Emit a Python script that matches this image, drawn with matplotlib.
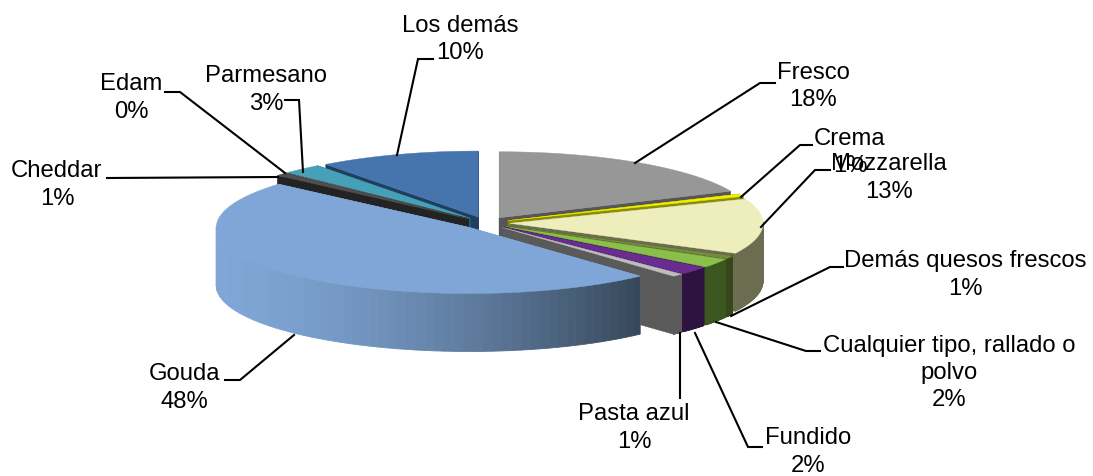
import numpy as np
import matplotlib
matplotlib.use("Agg")
import matplotlib.pyplot as plt
from matplotlib.colors import to_rgb
from matplotlib.patches import Polygon

plt.rcParams['font.family'] = ['Liberation Sans', 'DejaVu Sans']

# Estimated shares (the picture only prints them rounded)
names = ['Fresco', 'Crema', 'Mozzarella', 'Demás quesos frescos',
         'Cualquier tipo, rallado o\npolvo', 'Fundido', 'Pasta azul',
         'Gouda', 'Cheddar', 'Edam', 'Parmesano', 'Los demás']
shares = [18.4, 0.6, 13.5, 0.8, 2.2, 2.0, 0.7, 48.2, 0.7, 0.1, 2.5, 10.3]
printed = [18, 1, 13, 1, 2, 2, 1, 48, 1, 0, 3, 10]

top_colors = ['#979797', '#f2f200', '#eeeebd', '#75893f', '#8abf4b', '#6b2c91',
              '#bdbdbd', '#7fa6d6', '#4f4f4f', '#777777', '#45a0b8', '#4675ae']
wall_colors = ['#565656', '#8c8c00', '#6c6c50', '#34481a', '#3c561f', '#2d1440',
               '#5a5a5a', '#7fa6d6', '#232323', '#333333', '#1f5f70', '#1f3f60']

# label centre and leader line, in pixels of the picture
label_xy = [(813, 86.5), (850, 152.5), (889, 178), (965, 275), (949, 373), (808, 452),
            (634, 428), (184, 388), (57, 185), (131, 98), (266, 90), (460, 39.5)]
leaders = [[(635, 163), (760, 83), (775, 83)],
           [(741, 197), (800, 145), (812, 145)],
           [(761, 227), (815, 170), (830, 170)],
           [(731, 316), (830, 267), (843, 267)],
           [(716, 322), (806, 351), (820, 351)],
           [(695, 333), (748, 447), (762, 447)],
           [(680, 333), (680, 398)],
           [(294, 335), (240, 380), (225, 380)],
           [(278, 177), (107, 178)],
           [(285, 173), (180, 92), (165, 92)],
           [(303, 172), (299, 100), (285, 100)],
           [(397, 155), (418, 59), (433, 59)]]

cx, cy = 486, 223
rx, ry = 253, 66
depth = 58
explode = 24

fig = plt.figure(figsize=(10.93, 4.76), dpi=100)
ax = fig.add_axes([0, 0, 1, 1])
ax.set_xlim(0, 1093)
ax.set_ylim(476, 0)
ax.axis('off')


def arc(x0, y0, a0, a1, n=80):
    t = np.radians(np.linspace(a0, a1, n))
    return np.column_stack([x0 + rx * np.sin(t), y0 - ry * np.cos(t)])


def mix(c1, c2, f):
    return tuple(np.array(to_rgb(c1)) * (1 - f) + np.array(to_rgb(c2)) * f)


edges = np.cumsum([0] + shares) * 3.6
mids = (edges[:-1] + edges[1:]) / 2
# back slices first so the front ones cover them, Gouda always last
order = sorted(range(len(shares)), key=lambda k: -np.cos(np.radians(mids[k])) + (k == 7))

for i in order:
    a0, a1 = edges[i], edges[i + 1]
    m = np.radians(mids[i])
    x0 = cx + explode * np.sin(m)
    y0 = cy - explode * np.cos(m) * ry / rx
    rim = arc(x0, y0, a0, a1)
    wall = wall_colors[i]

    # the two cut faces
    for p in (rim[0], rim[-1]):
        quad = [(x0, y0), p, (p[0], p[1] + depth), (x0, y0 + depth)]
        ax.add_patch(Polygon(quad, closed=True, fc=wall, ec=wall, lw=0.4))

    # outer wall, only the part facing the viewer
    for j in range(len(rim) - 1):
        a = a0 + (a1 - a0) * (j + 0.5) / (len(rim) - 1)
        if np.cos(np.radians(a)) > 0.02:
            continue
        c = wall
        if names[i] == 'Gouda':
            f = np.clip((rim[j][0] - 216) / 428, 0, 1)
            c = mix('#7fa6d6', '#364759', f ** 1.6)
        q = [rim[j], rim[j + 1], rim[j + 1] + [0, depth], rim[j] + [0, depth]]
        ax.add_patch(Polygon(q, closed=True, fc=c, ec=c, lw=0.6))

    top = np.vstack([[x0, y0], rim])
    ax.add_patch(Polygon(top, closed=True, fc=top_colors[i], ec=top_colors[i], lw=0.3))

for pts in leaders:
    xs, ys = zip(*pts)
    ax.plot(xs, ys, color='black', lw=1.5, solid_joinstyle='miter')

for name, val, (x, y) in zip(names, printed, label_xy):
    ax.text(x, y, f'{name}\n{val}%', ha='center', va='center', fontsize=17.2,
            color='black', linespacing=1.31)

fig.savefig('out.png', dpi=100)
